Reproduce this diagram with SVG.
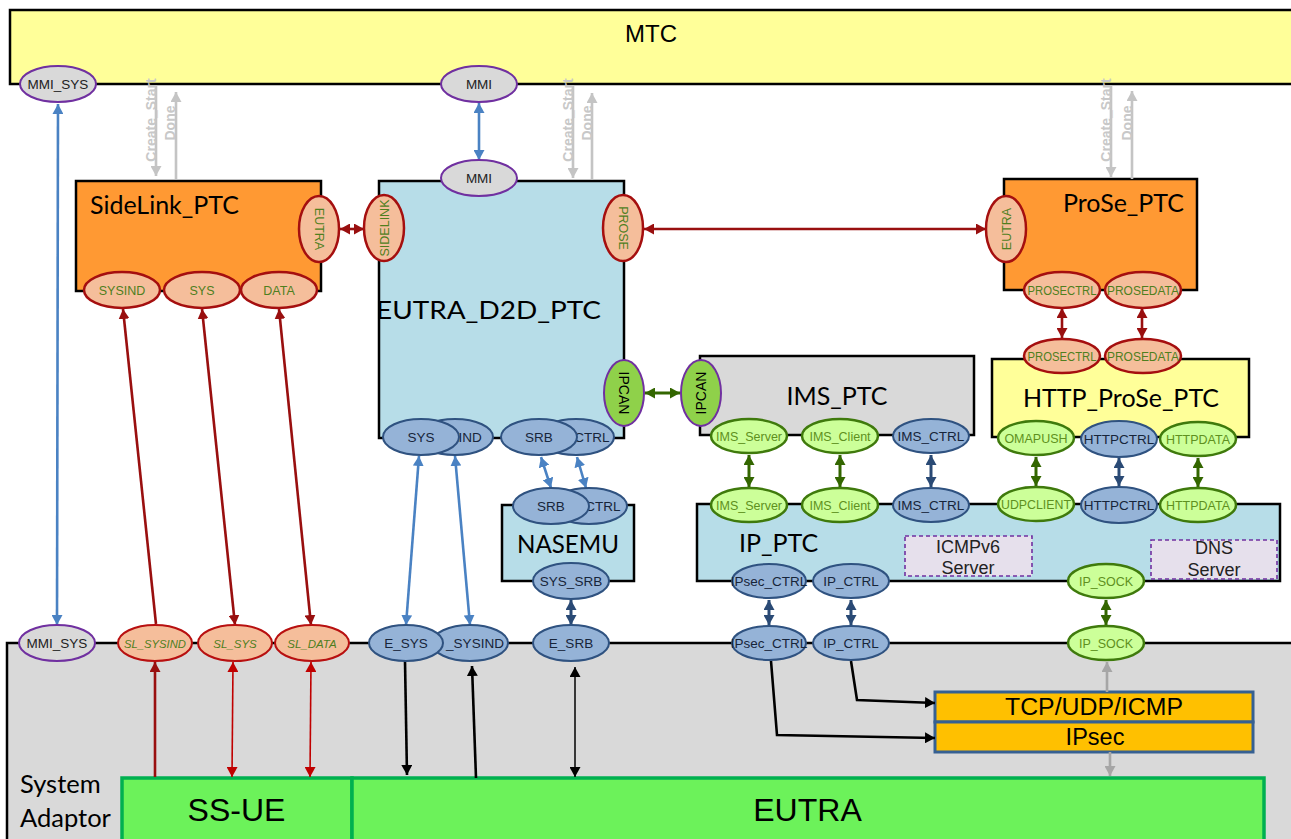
<svg xmlns="http://www.w3.org/2000/svg" width="1291" height="839" viewBox="0 0 1291 839">
<style>
text{font-family:"Liberation Sans",Arial,sans-serif;text-anchor:middle;fill:#000}
.box{stroke:#000;stroke-width:2.5}
.title{font-family:Lato,"Liberation Sans",sans-serif;font-size:25px}
.arial{font-size:24px}
.p{font-size:12.5px}
.blue .p,.pur .p{font-size:13.5px}
.blue ellipse{fill:#95B3D7;stroke:#2F5280;stroke-width:2}
.blue text{fill:#17253a}
.red ellipse{fill:#F5BE9B;stroke:#A50F0F;stroke-width:2.5}
.red text{fill:#4F7F1E}
.lg ellipse{fill:#CCFF99;stroke:#3F7A0C;stroke-width:2.5}
.lg text{fill:#5E9020}
.grn ellipse{fill:#8FD14A;stroke:#7030A0;stroke-width:2}
.grn .p{font-size:14px}
.pur ellipse{fill:#D9D9D9;stroke:#7030A0;stroke-width:2}
.pur text{fill:#222}
.ital ellipse{stroke:#B81010;stroke-width:2}
.ital text{font-style:italic}
.ital .p{font-size:11.5px}
.dash{fill:#E6E0EC;stroke:#7030A0;stroke-width:1.6;stroke-dasharray:4 3}
.dt{font-size:18px;fill:#222}
.ss{fill:#6CF25A;stroke:#00B050;stroke-width:3.5}
.or{fill:#FFC000;stroke:#366092;stroke-width:3}
.big{font-size:32px}
.c{fill:none}
.ctl{font-size:14px;font-weight:bold;fill:#C8C8C8}
.cb{stroke:#4A82C3;stroke-width:2.6}.cd{stroke:#2A4A75;stroke-width:3}.cg{stroke:#336600;stroke-width:3}
.cdr{stroke:#990F0F;stroke-width:2.6}.cr{stroke:#C00000;stroke-width:1.6}.ck{stroke:#000;stroke-width:2.6}.ckt{stroke:#000;stroke-width:1.5}
.cy{stroke:#C4C4C4;stroke-width:2.6}.cy2{stroke:#A6A6A6;stroke-width:2.6}
</style>
<defs>
<marker id="mb" markerUnits="userSpaceOnUse" markerWidth="11" markerHeight="11" refX="10" refY="5.500" orient="auto-start-reverse"><path d="M0 0L10 5.500L0 11z" fill="#4A82C3"/></marker>
<marker id="md" markerUnits="userSpaceOnUse" markerWidth="11" markerHeight="11" refX="10" refY="5.500" orient="auto-start-reverse"><path d="M0 0L10 5.500L0 11z" fill="#2A4A75"/></marker>
<marker id="mg" markerUnits="userSpaceOnUse" markerWidth="11" markerHeight="11" refX="10" refY="5.500" orient="auto-start-reverse"><path d="M0 0L10 5.500L0 11z" fill="#336600"/></marker>
<marker id="mdr" markerUnits="userSpaceOnUse" markerWidth="11" markerHeight="11" refX="10" refY="5.500" orient="auto-start-reverse"><path d="M0 0L10 5.500L0 11z" fill="#990F0F"/></marker>
<marker id="mr" markerUnits="userSpaceOnUse" markerWidth="11" markerHeight="11" refX="10" refY="5.500" orient="auto-start-reverse"><path d="M0 0L10 5.500L0 11z" fill="#C00000"/></marker>
<marker id="mk" markerUnits="userSpaceOnUse" markerWidth="11" markerHeight="11" refX="10" refY="5.500" orient="auto-start-reverse"><path d="M0 0L10 5.500L0 11z" fill="#000"/></marker>
<marker id="my" markerUnits="userSpaceOnUse" markerWidth="11" markerHeight="11" refX="10" refY="5.500" orient="auto-start-reverse"><path d="M0 0L10 5.500L0 11z" fill="#C4C4C4"/></marker>
<marker id="my2" markerUnits="userSpaceOnUse" markerWidth="11" markerHeight="11" refX="10" refY="5.500" orient="auto-start-reverse"><path d="M0 0L10 5.500L0 11z" fill="#A6A6A6"/></marker>
</defs>
<rect width="1291" height="839" fill="#fff"/>

<g id="system-adaptor"><path d="M7 839V643H1291V839z" fill="#D9D9D9"/><path d="M7 839V643H1291" class="c box"/>
<text class="title" x="20" y="793" style="text-anchor:start;font-size:25.500px">System</text><text class="title" x="20" y="827" style="text-anchor:start;font-size:25.500px">Adaptor</text></g>
<g id="mtc"><rect class="box" x="10" y="10" width="1285" height="74" fill="#FFFF99"/><text class="arial" x="651" y="42">MTC</text></g>
<g id="sidelink-ptc"><rect class="box" x="76" y="181" width="245" height="110" fill="#FF9933"/><text class="title" x="90" y="214" style="text-anchor:start">SideLink_PTC</text></g>
<g id="eutra-d2d-ptc"><rect class="box" x="379" y="181" width="245" height="257" fill="#B7DDE8"/><text class="title" x="488.500" y="319" textLength="225" lengthAdjust="spacingAndGlyphs">EUTRA_D2D_PTC</text></g>
<g id="prose-ptc"><rect class="box" x="1004" y="179" width="193" height="111" fill="#FF9933"/><text class="title" x="1123.500" y="212">ProSe_PTC</text></g>
<g id="nasemu"><rect class="box" x="502" y="505" width="132" height="76" fill="#B7DDE8"/><text class="title" x="568" y="553" textLength="102" lengthAdjust="spacingAndGlyphs">NASEMU</text></g>
<g id="ims-ptc"><rect class="box" x="700" y="356" width="274" height="79" fill="#D9D9D9"/><text class="title" x="837" y="405">IMS_PTC</text></g>
<g id="http-prose-ptc"><rect class="box" x="992" y="359" width="257" height="78" fill="#FFFF99"/><text class="title" x="1121" y="407">HTTP_ProSe_PTC</text></g>
<g id="ip-ptc"><rect class="box" x="697" y="504" width="583" height="77" fill="#B7DDE8"/><text class="title" x="739" y="552" style="text-anchor:start">IP_PTC</text>
<rect class="dash" x="905" y="536" width="127" height="40"/><text class="dt" x="968" y="553">ICMPv6</text><text class="dt" x="968" y="574">Server</text>
<rect class="dash" x="1151" y="540" width="126" height="39"/><text class="dt" x="1214" y="554">DNS</text><text class="dt" x="1214" y="576">Server</text></g>
<g id="tcp-udp-icmp"><rect class="or" x="935" y="692" width="318" height="30"/><text x="1094" y="715" style="font-size:23px" textLength="178" lengthAdjust="spacingAndGlyphs">TCP/UDP/ICMP</text></g>
<g id="ipsec"><rect class="or" x="935" y="722" width="318" height="30"/><text x="1095" y="745" style="font-size:23.500px">IPsec</text></g>
<g id="ss-ue"><rect class="ss" x="122" y="778" width="230" height="65"/><text class="big" x="236.500" y="821">SS-UE</text></g>
<g id="eutra"><rect class="ss" x="352" y="778" width="912" height="65"/><text class="big" x="807.500" y="821">EUTRA</text></g>

<g id="connectors" class="c">
<path class="cy" marker-end="url(#my)" d="M156 85V176"/><path class="cy" marker-end="url(#my)" d="M176 179V92"/>
<path class="cy" marker-end="url(#my)" d="M573 85V178"/><path class="cy" marker-end="url(#my)" d="M592 179V93"/>
<path class="cy" marker-end="url(#my)" d="M1111 85V177"/><path class="cy" marker-end="url(#my)" d="M1132 179V91"/>
<path class="cb" marker-start="url(#mb)" marker-end="url(#mb)" d="M58 104L57 625"/>
<path class="cb" marker-start="url(#mb)" marker-end="url(#mb)" d="M479 103V160"/>
<path class="cdr" marker-start="url(#mdr)" marker-end="url(#mdr)" d="M340 229H364"/>
<path class="cdr" marker-start="url(#mdr)" marker-end="url(#mdr)" d="M644 229H986"/>
<path class="cg" marker-start="url(#mg)" marker-end="url(#mg)" d="M645 393H680"/>
<path class="cdr" marker-start="url(#mdr)" d="M123 309L156 624"/>
<path class="cdr" marker-start="url(#mdr)" marker-end="url(#mdr)" d="M202 309L235 625"/>
<path class="cdr" marker-start="url(#mdr)" marker-end="url(#mdr)" d="M279 309L311 625"/>
<path class="cdr" marker-start="url(#mdr)" marker-end="url(#mdr)" d="M1062 308V338"/>
<path class="cdr" marker-start="url(#mdr)" marker-end="url(#mdr)" d="M1142 308V338"/>
<path class="cb" marker-start="url(#mb)" marker-end="url(#mb)" d="M419 456L406 625"/>
<path class="cb" marker-start="url(#mb)" marker-end="url(#mb)" d="M455 456L470 625"/>
<path class="cb" marker-start="url(#mb)" marker-end="url(#mb)" d="M541 457L551 488"/>
<path class="cb" marker-start="url(#mb)" marker-end="url(#mb)" d="M577 457L586 488"/>
<path class="cd" marker-start="url(#md)" marker-end="url(#md)" d="M571 600V625"/>
<path class="cg" marker-start="url(#mg)" marker-end="url(#mg)" d="M749 455V487"/>
<path class="cg" marker-start="url(#mg)" marker-end="url(#mg)" d="M840 455V487"/>
<path class="cd" marker-start="url(#md)" marker-end="url(#md)" d="M931 455V487"/>
<path class="cg" marker-start="url(#mg)" marker-end="url(#mg)" d="M1036 457V486"/>
<path class="cd" marker-start="url(#md)" marker-end="url(#md)" d="M1119 458V486"/>
<path class="cg" marker-start="url(#mg)" marker-end="url(#mg)" d="M1198 458V487"/>
<path class="cd" marker-start="url(#md)" marker-end="url(#md)" d="M769 600V625"/>
<path class="cd" marker-start="url(#md)" marker-end="url(#md)" d="M851 600V625"/>
<path class="cg" marker-start="url(#mg)" marker-end="url(#mg)" d="M1106 600V625"/>
<path class="cdr" marker-end="url(#mdr)" d="M155 777V662"/>
<path class="cr" marker-start="url(#mr)" marker-end="url(#mr)" d="M233 662L232 777"/>
<path class="cr" marker-start="url(#mr)" marker-end="url(#mr)" d="M311 662L310 777"/>
<path class="ck" marker-end="url(#mk)" d="M405 661L407 775"/>
<path class="ck" marker-end="url(#mk)" d="M476 778L472 666"/>
<path class="ckt" marker-start="url(#mk)" marker-end="url(#mk)" d="M575 667V777"/>
<path class="ck" marker-end="url(#mk)" d="M771 661L777 735L935 738"/>
<path class="ck" marker-end="url(#mk)" d="M851 661L857 700L935 703"/>
<path class="cy2" marker-end="url(#my2)" d="M1107 692V662"/>
<path class="cy2" marker-end="url(#my2)" d="M1110 752V776"/>
<text class="ctl" transform="translate(156,120) rotate(-90)">Create_Start</text><text class="ctl" transform="translate(175,123) rotate(-90)">Done</text>
<text class="ctl" transform="translate(573,120) rotate(-90)">Create_Start</text><text class="ctl" transform="translate(592,123) rotate(-90)">Done</text>
<text class="ctl" transform="translate(1111,120) rotate(-90)">Create_Start</text><text class="ctl" transform="translate(1132,123) rotate(-90)">Done</text>
</g>

<g id="p-mmi-sys-top" class="pur"><ellipse cx="58" cy="84" rx="38" ry="18"/><text class="p" x="58" y="89">MMI_SYS</text></g>
<g id="p-mmi-top" class="pur"><ellipse cx="479" cy="84" rx="38" ry="18"/><text class="p" x="479" y="89">MMI</text></g>
<g id="p-mmi-d2d" class="pur"><ellipse cx="479" cy="178" rx="38" ry="18"/><text class="p" x="479" y="183">MMI</text></g>
<g id="p-mmi-sys-low" class="pur"><ellipse cx="57" cy="643" rx="38" ry="18"/><text class="p" x="57" y="648">MMI_SYS</text></g>

<g id="p-sl-eutra" class="red"><ellipse cx="319" cy="229" rx="20" ry="33"/><text class="p" transform="translate(314.500,229) rotate(90)">EUTRA</text></g>
<g id="p-sl-sysind" class="red"><ellipse cx="122" cy="290" rx="38" ry="18"/><text class="p" x="122" y="295">SYSIND</text></g>
<g id="p-sl-sys" class="red"><ellipse cx="202" cy="290" rx="38" ry="18"/><text class="p" x="202" y="295">SYS</text></g>
<g id="p-sl-data" class="red"><ellipse cx="279" cy="290" rx="38" ry="18"/><text class="p" x="279" y="295">DATA</text></g>
<g id="p-d2d-sidelink" class="red"><ellipse cx="384" cy="228" rx="20" ry="33"/><text class="p" transform="translate(388.500,228) rotate(-90)">SIDELINK</text></g>
<g id="p-d2d-prose" class="red"><ellipse cx="623" cy="228" rx="20" ry="33"/><text class="p" transform="translate(618.500,228) rotate(90)">PROSE</text></g>
<g id="p-prose-eutra" class="red"><ellipse cx="1006" cy="229" rx="20" ry="33"/><text class="p" transform="translate(1010.500,229) rotate(-90)">EUTRA</text></g>
<g id="p-prosectrl-a" class="red"><ellipse cx="1062" cy="290" rx="38" ry="18"/><text class="p" x="1062" y="295" textLength="69" lengthAdjust="spacingAndGlyphs">PROSECTRL</text></g>
<g id="p-prosedata-a" class="red"><ellipse cx="1143" cy="290" rx="38" ry="18"/><text class="p" x="1143" y="295" textLength="72" lengthAdjust="spacingAndGlyphs">PROSEDATA</text></g>
<g id="p-prosectrl-b" class="red"><ellipse cx="1062" cy="356" rx="38" ry="17"/><text class="p" x="1062" y="361" textLength="69" lengthAdjust="spacingAndGlyphs">PROSECTRL</text></g>
<g id="p-prosedata-b" class="red"><ellipse cx="1143" cy="356" rx="38" ry="17"/><text class="p" x="1143" y="361" textLength="72" lengthAdjust="spacingAndGlyphs">PROSEDATA</text></g>

<g id="p-d2d-ipcan" class="grn"><ellipse cx="624" cy="393" rx="20" ry="33"/><text class="p" transform="translate(619,393) rotate(90)">IPCAN</text></g>
<g id="p-ims-ipcan" class="grn"><ellipse cx="701" cy="393" rx="20" ry="33"/><text class="p" transform="translate(706,393) rotate(-90)">IPCAN</text></g>

<g id="p-d2d-ind" class="blue"><ellipse cx="455" cy="437" rx="38" ry="18"/><text class="p" x="470" y="442">IND</text></g>
<g id="p-d2d-sys" class="blue"><ellipse cx="421" cy="437" rx="38" ry="18"/><text class="p" x="421" y="442">SYS</text></g>
<g id="p-d2d-ctrl" class="blue"><ellipse cx="576" cy="437" rx="38" ry="18"/><text class="p" x="592" y="442">CTRL</text></g>
<g id="p-d2d-srb" class="blue"><ellipse cx="539" cy="437" rx="38" ry="18"/><text class="p" x="539" y="442">SRB</text></g>
<g id="p-nas-ctrl" class="blue"><ellipse cx="589" cy="506" rx="38" ry="18"/><text class="p" x="603" y="511">CTRL</text></g>
<g id="p-nas-srb" class="blue"><ellipse cx="551" cy="506" rx="38" ry="18"/><text class="p" x="551" y="511">SRB</text></g>
<g id="p-nas-sys-srb" class="blue"><ellipse cx="571" cy="581" rx="38" ry="18"/><text class="p" x="571" y="586">SYS_SRB</text></g>
<g id="p-e-sysind" class="blue"><ellipse cx="470" cy="643" rx="38" ry="18"/><text class="p" x="475" y="648">_SYSIND</text></g>
<g id="p-e-sys" class="blue"><ellipse cx="406" cy="643" rx="37" ry="18"/><text class="p" x="406" y="648">E_SYS</text></g>
<g id="p-e-srb" class="blue"><ellipse cx="571" cy="643" rx="38" ry="18"/><text class="p" x="571" y="648">E_SRB</text></g>

<g id="p-sl-sl-sysind" class="red ital"><ellipse cx="155" cy="643" rx="37" ry="18"/><text class="p" x="155" y="648" textLength="62" lengthAdjust="spacingAndGlyphs">SL_SYSIND</text></g>
<g id="p-sl-sl-sys" class="red ital"><ellipse cx="235" cy="643" rx="37" ry="18"/><text class="p" x="235" y="648">SL_SYS</text></g>
<g id="p-sl-sl-data" class="red ital"><ellipse cx="312" cy="643" rx="37" ry="18"/><text class="p" x="312" y="648">SL_DATA</text></g>

<g id="p-ims-server-a" class="lg"><ellipse cx="749" cy="436" rx="38" ry="17"/><text class="p" x="749" y="441">IMS_Server</text></g>
<g id="p-ims-client-a" class="lg"><ellipse cx="840" cy="436" rx="38" ry="17"/><text class="p" x="840" y="441">IMS_Client</text></g>
<g id="p-ims-ctrl-a" class="blue"><ellipse cx="931" cy="436" rx="38" ry="17"/><text class="p" x="931" y="441">IMS_CTRL</text></g>
<g id="p-ims-server-b" class="lg"><ellipse cx="749" cy="505" rx="38" ry="17"/><text class="p" x="749" y="510">IMS_Server</text></g>
<g id="p-ims-client-b" class="lg"><ellipse cx="840" cy="505" rx="38" ry="17"/><text class="p" x="840" y="510">IMS_Client</text></g>
<g id="p-ims-ctrl-b" class="blue"><ellipse cx="931" cy="505" rx="38" ry="17"/><text class="p" x="931" y="510">IMS_CTRL</text></g>
<g id="p-omapush" class="lg"><ellipse cx="1036" cy="438" rx="38" ry="17"/><text class="p" x="1036" y="443">OMAPUSH</text></g>
<g id="p-httpctrl-a" class="blue"><ellipse cx="1119" cy="439" rx="38" ry="18"/><text class="p" x="1119" y="444">HTTPCTRL</text></g>
<g id="p-httpdata-a" class="lg"><ellipse cx="1198" cy="439" rx="38" ry="17"/><text class="p" x="1198" y="444">HTTPDATA</text></g>
<g id="p-udpclient" class="lg"><ellipse cx="1036" cy="504" rx="38" ry="17"/><text class="p" x="1036" y="509" textLength="70" lengthAdjust="spacingAndGlyphs">UDPCLIENT</text></g>
<g id="p-httpctrl-b" class="blue"><ellipse cx="1119" cy="505" rx="38" ry="18"/><text class="p" x="1119" y="510">HTTPCTRL</text></g>
<g id="p-httpdata-b" class="lg"><ellipse cx="1198" cy="505" rx="38" ry="17"/><text class="p" x="1198" y="510">HTTPDATA</text></g>
<g id="p-ipsec-ctrl-a" class="blue"><ellipse cx="769" cy="581" rx="37" ry="17"/><text class="p" x="769" y="586">IPsec_CTRL</text></g>
<g id="p-ip-ctrl-a" class="blue"><ellipse cx="851" cy="581" rx="38" ry="17"/><text class="p" x="851" y="586">IP_CTRL</text></g>
<g id="p-ip-sock-a" class="lg"><ellipse cx="1106" cy="581" rx="38" ry="17"/><text class="p" x="1106" y="586">IP_SOCK</text></g>
<g id="p-ipsec-ctrl-b" class="blue"><ellipse cx="769" cy="643" rx="37" ry="17"/><text class="p" x="769" y="648">IPsec_CTRL</text></g>
<g id="p-ip-ctrl-b" class="blue"><ellipse cx="851" cy="643" rx="38" ry="17"/><text class="p" x="851" y="648">IP_CTRL</text></g>
<g id="p-ip-sock-b" class="lg"><ellipse cx="1106" cy="643" rx="38" ry="17"/><text class="p" x="1106" y="648">IP_SOCK</text></g>
</svg>
